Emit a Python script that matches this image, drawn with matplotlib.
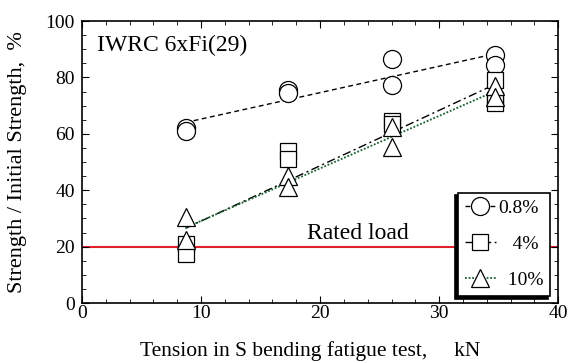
import numpy as np
import matplotlib.pyplot as plt
from matplotlib.ticker import MultipleLocator

plt.rcParams['font.family'] = ['Liberation Serif', 'DejaVu Serif']

# leitura dos pontos (tensao em kN, resistencia %)
x_08 = [8.7, 8.7, 17.3, 17.3, 26.0, 26.0, 34.7, 34.7]
y_08 = [62, 61, 75.5, 74.5, 86.5, 77.5, 88, 84.5]

x_4 = [8.7, 8.7, 17.3, 17.3, 26.0, 26.0, 34.7, 34.7, 34.7]
y_4 = [21, 17.5, 54, 51, 64.5, 63.5, 79, 72, 71]

x_10 = [8.7, 8.7, 17.3, 17.3, 26.0, 26.0, 34.7, 34.7]
y_10 = [30.5, 22.5, 45, 41, 62.5, 55.5, 77, 73]

rated = 20
labels = ['0.8%', '   4%', '  10%']

fig = plt.figure(figsize=(5.69, 3.63), dpi=100)
ax = fig.add_axes([0.144, 0.165, 0.837, 0.777])

series = [
    (x_08, y_08, 'o', (0, (3.5, 2.5)), 'black', 13, 1.0),
    (x_4, y_4, 's', (0, (6, 2.5, 1.5, 2.5)), 'black', 11.5, 1.0),
    (x_10, y_10, '^', (0, (1.0, 1.0)), '#15602c', 13, 1.3),
]
handles = []
for (xs, ys, mk, ls, col, ms, lw), lab in zip(series, labels):
    xs = np.array(xs)
    ys = np.array(ys)
    p = np.polyfit(xs, ys, 1)
    xf = np.array([xs.min(), xs.max()])
    ax.plot(xf, np.polyval(p, xf), ls=ls, color=col, lw=lw, zorder=2)
    ax.plot(xs, ys, ls='none', marker=mk, ms=ms, mfc='white', mec='black',
            mew=0.9, zorder=3)
    h, = ax.plot([], [], ls=ls, color=col, lw=lw, marker=mk, ms=ms,
                 mfc='white', mec='black', mew=0.9)
    handles.append(h)

ax.axhline(rated, color='#e0202a', lw=1.5, zorder=1)
ax.text(23.2, 24.6, 'Rated load', ha='center', va='center', fontsize=17)
ax.text(1.3, 91.3, 'IWRC 6xFi(29)', ha='left', va='center', fontsize=17)

ax.set_xlim(0, 40)
ax.set_ylim(0, 100)
ax.xaxis.set_major_locator(MultipleLocator(10))
ax.xaxis.set_minor_locator(MultipleLocator(2))
ax.yaxis.set_major_locator(MultipleLocator(20))
ax.yaxis.set_minor_locator(MultipleLocator(5))
ax.tick_params(which='both', direction='in', top=True, right=True, labelsize=14)
ax.tick_params(which='major', length=5)
ax.tick_params(which='minor', length=3)
ax.tick_params(axis='x', pad=1.5)
ax.tick_params(axis='y', pad=5)
for s in ax.spines.values():
    s.set_linewidth(1.2)

ax.set_xlabel('Tension in S bending fatigue test,     kN', fontsize=15.5)
ax.xaxis.set_label_coords(0.479, -0.135)
ax.set_ylabel('Strength / Initial Strength,  %', fontsize=16)
ax.yaxis.set_label_coords(-0.115, 0.50)

leg = ax.legend(handles, labels, loc='lower right', fontsize=14, frameon=True,
                fancybox=False, handlelength=1.6, handletextpad=0.1,
                labelspacing=0.95, borderpad=0.35, borderaxespad=0,
                bbox_to_anchor=(0.983, 0.025),
                shadow={'color': 'black', 'alpha': 1, 'ox': -1.8, 'oy': -1.8})
leg.get_frame().set_edgecolor('black')
leg.get_frame().set_linewidth(1.2)

fig.savefig('out.png', dpi=100)
